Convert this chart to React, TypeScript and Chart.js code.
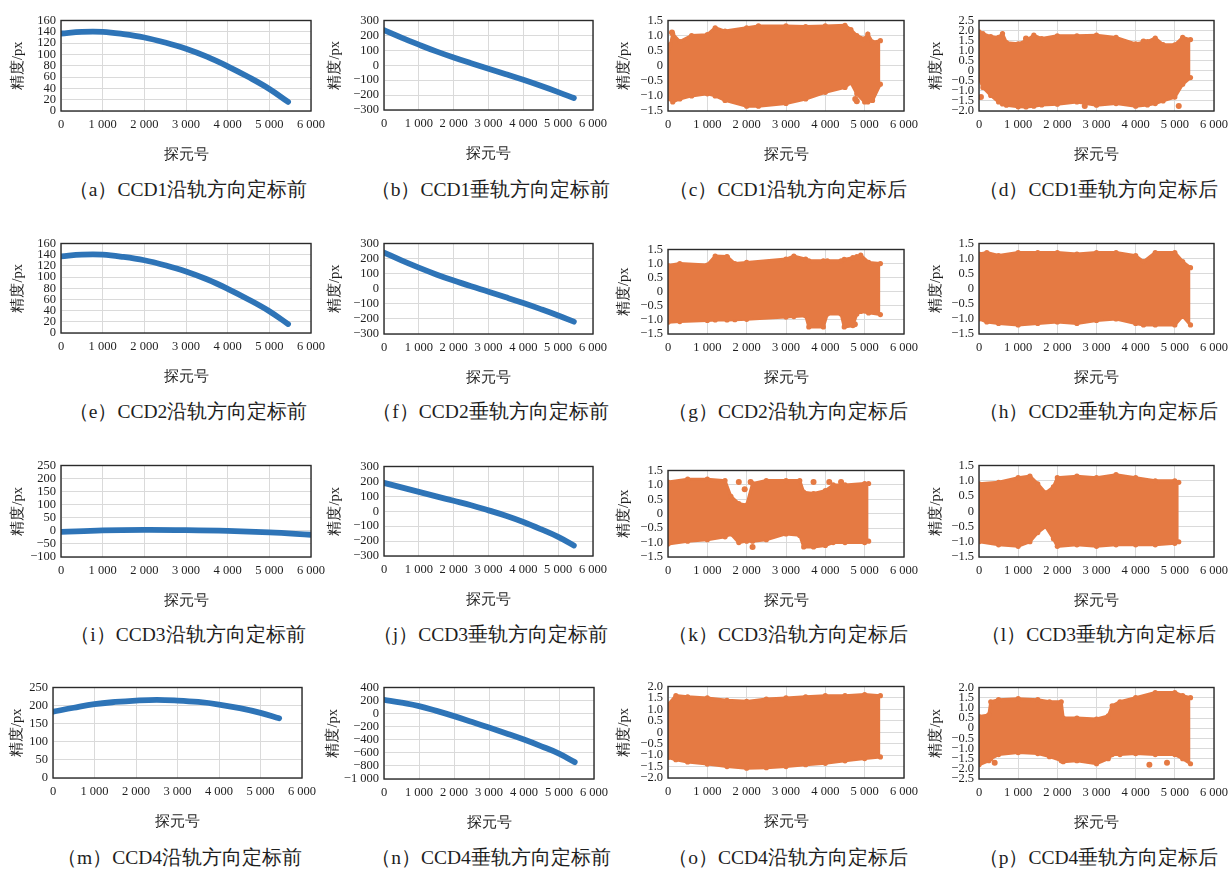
import React, { useEffect, useRef } from 'react';
import { Chart, registerables } from 'chart.js';

Chart.register(...registerables);

// ---------- data ----------
const X_TICK_STEP = 1000;
const X_MIN = 0;
const X_MAX = 6000;

// blue curves (before calibration)
const CURVE_X = [0, 500, 1000, 1500, 2000, 2500, 3000, 3500, 4000, 4500, 5000, 5450];
const A_Y = [137, 140, 140, 136, 130, 121, 110, 96, 79, 60, 39, 16];
const B_Y = [235, 185, 138, 93, 52, 14, -23, -60, -98, -138, -180, -220];
const E_Y = [137, 140, 140, 136, 130, 121, 110, 96, 79, 60, 39, 16];
const F_Y = [240, 188, 140, 95, 54, 16, -20, -57, -95, -135, -177, -218];
const I_X = [0, 1000, 2000, 3000, 4000, 5000, 6000];
const I_Y = [-4, 2, 4, 3, 0, -6, -15];
const J_Y = [190, 160, 130, 100, 70, 40, 6, -30, -72, -120, -172, -230];
const M_Y = [183, 194, 204, 210, 214, 216, 214, 210, 203, 193, 180, 165];
const N_Y = [212, 168, 116, 42, -38, -124, -213, -303, -397, -500, -611, -742];

// orange clouds (after calibration): upper / lower envelopes + isolated points
const C_X = [0, 60, 120, 300, 600, 1000, 1200, 1450, 2000, 2300, 3000, 3500, 4000, 4500, 4650, 4800, 5000, 5080, 5200, 5400];
const C_UP = [0.45, 0.7, 1.05, 0.8, 1.0, 1.03, 1.26, 1.15, 1.26, 1.32, 1.32, 1.3, 1.32, 1.34, 1.2, 1.0, 0.89, 1.05, 0.78, 0.83];
const C_LO = [-0.9, -1.1, -1.2, -1.1, -1.0, -0.93, -1.0, -1.15, -1.34, -1.34, -1.25, -1.1, -0.88, -0.72, -0.56, -0.93, -1.2, -1.2, -1.15, -0.61];
const C_OUT_X = [100, 4760, 4800];
const C_OUT_Y = [1.1, -1.1, -1.18];

const D_X = [0, 100, 300, 500, 600, 700, 1000, 1200, 1400, 1600, 2000, 2500, 3000, 3500, 4000, 4300, 4500, 4700, 5000, 5200, 5400];
const D_UP = [1.94, 1.85, 1.7, 1.66, 1.85, 1.4, 1.34, 1.5, 1.77, 1.6, 1.74, 1.74, 1.77, 1.66, 1.34, 1.45, 1.63, 1.3, 1.29, 1.66, 1.55];
const D_LO = [-0.34, -0.83, -1.23, -1.55, -1.65, -1.71, -1.79, -1.8, -1.76, -1.7, -1.66, -1.55, -1.71, -1.63, -1.76, -1.7, -1.63, -1.5, -1.31, -0.67, -0.34];
const D_OUT_X = [50, 180, 1200, 2700, 4200, 5100];
const D_OUT_Y = [-1.3, -0.7, 1.6, -1.75, 1.45, -1.75];

const G_X = [0, 300, 1000, 1200, 1500, 1700, 2000, 3000, 3200, 3500, 3580, 3950, 4050, 4400, 4480, 4700, 4800, 4900, 5100, 5400];
const G_UP = [0.93, 1.0, 0.95, 1.27, 1.25, 1.0, 1.04, 1.16, 1.27, 1.16, 1.1, 1.1, 1.1, 1.1, 1.15, 1.21, 1.25, 1.3, 1.04, 1.0];
const G_LO = [-1.08, -1.06, -1.02, -1.0, -1.0, -0.99, -0.98, -0.9, -0.88, -0.85, -1.25, -1.25, -0.79, -0.79, -1.25, -1.2, -0.79, -0.7, -0.75, -0.81];
const G_OUT_X = [1500, 4750];
const G_OUT_Y = [1.22, -1.15];

const H_X = [0, 200, 500, 1000, 1500, 2000, 2500, 3000, 3500, 4000, 4200, 4500, 5000, 5200, 5400];
const H_UP = [1.15, 1.2, 1.1, 1.2, 1.2, 1.2, 1.15, 1.2, 1.2, 1.1, 0.9, 1.2, 1.2, 0.9, 0.7];
const H_LO = [-1.0, -1.1, -1.15, -1.2, -1.15, -1.1, -1.15, -1.05, -1.0, -1.15, -1.2, -1.2, -1.2, -0.9, -1.2];

const K_X = [0, 500, 1000, 1450, 1600, 1800, 2000, 2150, 2500, 3000, 3350, 3450, 3700, 4000, 4200, 4500, 5000, 5100];
const K_UP = [1.1, 1.2, 1.2, 1.15, 0.6, 0.35, 0.3, 1.05, 1.15, 1.15, 1.15, 0.75, 0.7, 0.8, 1.0, 1.0, 1.05, 1.05];
const K_LO = [-1.05, -0.95, -0.9, -0.8, -0.7, -1.0, -0.95, -0.95, -0.9, -0.7, -0.75, -1.15, -1.15, -1.1, -1.0, -1.0, -1.0, -0.95];
const K_OUT_X = [1800, 1950, 2100, 3700, 4100, 4400, 2150];
const K_OUT_Y = [1.1, 0.85, 1.1, 1.1, 1.1, 1.1, -1.15];

const L_X = [0, 500, 1000, 1300, 1500, 1700, 1900, 2000, 2500, 3000, 3500, 4000, 4500, 5000, 5100];
const L_UP = [0.9, 0.95, 1.1, 1.15, 0.9, 0.6, 0.8, 1.1, 1.15, 1.1, 1.2, 1.1, 1.0, 1.0, 0.95];
const L_LO = [-1.0, -1.1, -1.15, -1.0, -0.7, -0.5, -0.9, -1.15, -1.1, -1.15, -1.1, -1.1, -1.1, -1.05, -1.0];

const O_X = [0, 200, 500, 1000, 1500, 2000, 2500, 3000, 3500, 4000, 4500, 5000, 5400];
const O_UP = [1.2, 1.6, 1.55, 1.5, 1.4, 1.35, 1.45, 1.5, 1.55, 1.6, 1.6, 1.65, 1.6];
const O_LO = [-1.1, -1.2, -1.3, -1.39, -1.5, -1.57, -1.55, -1.5, -1.42, -1.36, -1.25, -1.15, -1.08];

const P_X = [0, 250, 300, 500, 1000, 1500, 1800, 2100, 2150, 2500, 3000, 3300, 3400, 3600, 4000, 4500, 5000, 5200, 5400];
const P_UP = [0.57, 0.65, 1.3, 1.4, 1.45, 1.4, 1.3, 1.3, 0.5, 0.5, 0.45, 0.6, 1.1, 1.3, 1.5, 1.75, 1.75, 1.6, 1.5];
const P_LO = [-1.8, -1.6, -1.5, -1.3, -1.2, -1.25, -1.4, -1.6, -1.65, -1.6, -1.75, -1.5, -1.3, -1.3, -1.25, -1.3, -1.3, -1.5, -1.75];
const P_OUT_X = [400, 4350, 4800];
const P_OUT_Y = [-1.7, -1.8, -1.7];

const CAPTIONS = [
  '（a）CCD1沿轨方向定标前', '（b）CCD1垂轨方向定标前', '（c）CCD1沿轨方向定标后', '（d）CCD1垂轨方向定标后',
  '（e）CCD2沿轨方向定标前', '（f）CCD2垂轨方向定标前', '（g）CCD2沿轨方向定标后', '（h）CCD2垂轨方向定标后',
  '（i）CCD3沿轨方向定标前', '（j）CCD3垂轨方向定标前', '（k）CCD3沿轨方向定标后', '（l）CCD3垂轨方向定标后',
  '（m）CCD4沿轨方向定标前', '（n）CCD4垂轨方向定标前', '（o）CCD4沿轨方向定标后', '（p）CCD4垂轨方向定标后',
];
const X_TITLE = '探元号';
const Y_TITLE = '精度/px';

// ---------- styling ----------
const BLUE = '#2e74b7';
const ORANGE = '#e57a43';
const SERIF = "'Times New Roman', 'Liberation Serif', 'DejaVu Serif', serif";
const PAD_TOP = 10;
const PAD_RIGHT = 22;
const XH = 53;

type Rect = [number, number, number, number];
type PanelDef = {
  rect: Rect;
  titleX: number;
  capY: number;
  yr: [number, number, number, number]; // min, max, step, decimals
  line?: { xs: number[]; ys: number[] };
  band?: { xs: number[]; up: number[]; lo: number[]; ox?: number[]; oy?: number[] };
};

const PANELS: PanelDef[] = [
  { rect: [61, 18, 311, 111], titleX: 18, capY: 190, yr: [0, 160, 20, 0], line: { xs: CURVE_X, ys: A_Y } },
  { rect: [384, 18, 593, 110], titleX: 335, capY: 190, yr: [-300, 300, 100, 0], line: { xs: CURVE_X, ys: B_Y } },
  { rect: [668, 18, 904, 111], titleX: 624, capY: 190, yr: [-1.5, 1.5, 0.5, 1], band: { xs: C_X, up: C_UP, lo: C_LO, ox: C_OUT_X, oy: C_OUT_Y } },
  { rect: [979, 18, 1214, 111], titleX: 936, capY: 190, yr: [-2, 2.5, 0.5, 1], band: { xs: D_X, up: D_UP, lo: D_LO, ox: D_OUT_X, oy: D_OUT_Y } },

  { rect: [61, 241, 311, 333], titleX: 18, capY: 412, yr: [0, 160, 20, 0], line: { xs: CURVE_X, ys: E_Y } },
  { rect: [384, 241, 593, 334], titleX: 335, capY: 412, yr: [-300, 300, 100, 0], line: { xs: CURVE_X, ys: F_Y } },
  { rect: [668, 247, 904, 334], titleX: 624, capY: 412, yr: [-1.5, 1.5, 0.5, 1], band: { xs: G_X, up: G_UP, lo: G_LO, ox: G_OUT_X, oy: G_OUT_Y } },
  { rect: [979, 241, 1214, 334], titleX: 936, capY: 412, yr: [-1.5, 1.5, 0.5, 1], band: { xs: H_X, up: H_UP, lo: H_LO } },

  { rect: [61, 463, 311, 557], titleX: 18, capY: 635, yr: [-100, 250, 50, 0], line: { xs: I_X, ys: I_Y } },
  { rect: [384, 464, 593, 556], titleX: 335, capY: 635, yr: [-300, 300, 100, 0], line: { xs: CURVE_X, ys: J_Y } },
  { rect: [668, 468, 904, 557], titleX: 624, capY: 635, yr: [-1.5, 1.5, 0.5, 1], band: { xs: K_X, up: K_UP, lo: K_LO, ox: K_OUT_X, oy: K_OUT_Y } },
  { rect: [979, 463, 1214, 557], titleX: 936, capY: 635, yr: [-1.5, 1.5, 0.5, 1], band: { xs: L_X, up: L_UP, lo: L_LO } },

  { rect: [53, 685, 302, 778], titleX: 17, capY: 858, yr: [0, 250, 50, 0], line: { xs: CURVE_X, ys: M_Y } },
  { rect: [384, 685, 594, 779], titleX: 333, capY: 858, yr: [-1000, 400, 200, 0], line: { xs: CURVE_X, ys: N_Y } },
  { rect: [668, 684, 904, 778], titleX: 624, capY: 858, yr: [-2, 2, 0.5, 1], band: { xs: O_X, up: O_UP, lo: O_LO } },
  { rect: [979, 685, 1214, 779], titleX: 936, capY: 858, yr: [-2.5, 2, 0.5, 1], band: { xs: P_X, up: P_UP, lo: P_LO, ox: P_OUT_X, oy: P_OUT_Y } },
];

function fmt(v: number, dec: number): string {
  if (Math.abs(v) < 1e-9) return '0';
  const a = Math.abs(v);
  const s = dec > 0 ? a.toFixed(dec) : String(Math.round(a)).replace(/\B(?=(\d{3})+(?!\d))/g, ' ');
  return (v < 0 ? '−' : '') + s;
}

const framePlugin = {
  id: 'frame',
  afterDraw(chart: any) {
    const { ctx, chartArea: a } = chart;
    ctx.save();
    ctx.strokeStyle = '#2b2b2b';
    ctx.lineWidth = 1.4;
    ctx.strokeRect(a.left, a.top, a.right - a.left, a.bottom - a.top);
    ctx.restore();
  },
};

function PanelChart({ def }: { def: PanelDef }) {
  const ref = useRef<HTMLCanvasElement | null>(null);
  const [l, t, r, b] = def.rect;
  const yw = Math.round(l - (def.titleX - 8.7));
  const left = l - yw;
  const top = t - PAD_TOP;
  const width = yw + (r - l) + PAD_RIGHT;
  const height = PAD_TOP + (b - t) + XH;

  useEffect(() => {
    if (!ref.current) return;
    const datasets: any[] = [];
    if (def.line) {
      datasets.push({
        data: def.line.xs.map((x, i) => ({ x, y: def.line!.ys[i] })),
        borderColor: BLUE,
        borderWidth: 5.8,
        borderCapStyle: 'round',
        pointRadius: 0,
        tension: 0.4,
        fill: false,
      });
    }
    if (def.band) {
      const bd = def.band;
      datasets.push({
        data: bd.xs.map((x, i) => ({ x, y: bd.up[i] })),
        borderColor: ORANGE,
        backgroundColor: ORANGE,
        borderWidth: 3,
        pointRadius: 2.6,
        pointBackgroundColor: ORANGE,
        pointBorderWidth: 0,
        tension: 0,
        fill: '+1',
      });
      datasets.push({
        data: bd.xs.map((x, i) => ({ x, y: bd.lo[i] })),
        borderColor: ORANGE,
        backgroundColor: ORANGE,
        borderWidth: 3,
        pointRadius: 2.6,
        pointBackgroundColor: ORANGE,
        pointBorderWidth: 0,
        tension: 0,
        fill: false,
      });
      if (bd.ox && bd.oy) {
        datasets.push({
          type: 'scatter',
          data: bd.ox.map((x, i) => ({ x, y: bd.oy![i] })),
          pointRadius: 3,
          pointBackgroundColor: ORANGE,
          pointBorderWidth: 0,
          showLine: false,
        });
      }
    }
    const [ymin, ymax, ystep, dec] = def.yr;
    const tickFont = { family: SERIF, size: 12.5 };
    const chart = new Chart(ref.current, {
      type: 'line',
      data: { datasets },
      options: {
        animation: false,
        responsive: false,
        layout: { padding: { top: PAD_TOP, right: PAD_RIGHT, left: 0, bottom: 0 } },
        plugins: { legend: { display: false }, tooltip: { enabled: false } },
        scales: {
          x: {
            type: 'linear',
            min: X_MIN,
            max: X_MAX,
            ticks: {
              stepSize: X_TICK_STEP,
              autoSkip: false,
              maxRotation: 0,
              padding: 6,
              color: '#1e1e1e',
              font: tickFont,
              callback: (v: any) => fmt(Number(v), 0),
            },
            grid: { color: '#dadada', drawTicks: false, lineWidth: 1 },
            border: { display: false },
            title: { display: true, text: X_TITLE, color: '#1e1e1e', font: { family: SERIF, size: 15 }, padding: 0 },
            afterFit: (s: any) => { s.height = XH; },
          },
          y: {
            type: 'linear',
            min: ymin,
            max: ymax,
            ticks: {
              stepSize: ystep,
              autoSkip: false,
              padding: 5,
              color: '#1e1e1e',
              font: tickFont,
              callback: (v: any) => fmt(Number(v), dec),
            },
            grid: { color: '#dadada', drawTicks: false, lineWidth: 1 },
            border: { display: false },
            title: { display: true, text: Y_TITLE, color: '#1e1e1e', font: { family: SERIF, size: 14.5 }, padding: 0 },
            afterFit: (s: any) => { s.width = yw; },
          },
        },
      } as any,
      plugins: [framePlugin],
    });
    return () => chart.destroy();
  }, []);

  return (
    <canvas
      ref={ref}
      width={width}
      height={height}
      style={{ position: 'absolute', left, top, width, height }}
    />
  );
}

export default function App() {
  return (
    <div style={{ position: 'absolute', left: 0, top: 0, width: 1230, height: 869, background: '#fff', overflow: 'hidden' }}>
      {PANELS.map((p, i) => (
        <PanelChart key={i} def={p} />
      ))}
      {PANELS.map((p, i) => {
        const cx = (p.rect[0] + p.rect[2]) / 2 + 2;
        return (
          <div
            key={'c' + i}
            style={{
              position: 'absolute',
              left: cx - 160,
              width: 320,
              top: p.capY - 13,
              height: 26,
              lineHeight: '26px',
              textAlign: 'center',
              fontFamily: SERIF,
              fontSize: 19.5,
              color: '#1e1e1e',
              whiteSpace: 'nowrap',
            }}
          >
            {CAPTIONS[i]}
          </div>
        );
      })}
    </div>
  );
}
